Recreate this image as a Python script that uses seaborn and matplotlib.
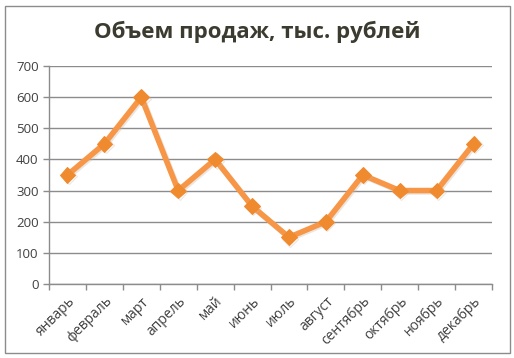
import numpy as np
import matplotlib
matplotlib.use("Agg")
import matplotlib.pyplot as plt
import matplotlib.patheffects as pe
from matplotlib.patches import Rectangle
import seaborn as sns

# данные графика
months = ['январь', 'февраль', 'март', 'апрель', 'май', 'июнь',
          'июль', 'август', 'сентябрь', 'октябрь', 'ноябрь', 'декабрь']
sales = [350, 450, 600, 300, 400, 250, 150, 200, 350, 300, 300, 450]
y_ticks = [0, 100, 200, 300, 400, 500, 600, 700]

sns.set_style("white")
plt.rcParams['font.family'] = ['Open Sans', 'DejaVu Sans']

fig = plt.figure(figsize=(5.14, 3.58), dpi=100)
ax = fig.add_axes([49 / 514, 1 - 284 / 358, (492 - 49) / 514, (284 - 66) / 358])

# рамка вокруг диаграммы
fig.patches.append(Rectangle((5 / 514, 5 / 358), 505 / 514, 347 / 358,
                             transform=fig.transFigure, fill=False,
                             edgecolor='#8c8c8c', linewidth=1))

shadow = [pe.SimpleLineShadow(offset=(1, -1), shadow_color='#c8b8a8', alpha=0.35),
          pe.Normal()]
sns.lineplot(x=months, y=sales, ax=ax, color='#f79646', linewidth=4,
             marker='D', markersize=8, markeredgecolor='#f08a2e',
             markerfacecolor='#f08a2e', path_effects=shadow)

ax.set_xlim(-0.5, len(months) - 0.5)
ax.set_ylim(0, 700)
ax.set_yticks(y_ticks)
ax.yaxis.grid(True, color='#8c8c8c', linewidth=1)
ax.set_axisbelow(True)

ax.set_xticks(range(len(months)))
ax.set_xticklabels(months, rotation=45, ha='right', rotation_mode='anchor',
                   fontsize=10, color='#404040')
ax.set_xticks(np.arange(-0.5, len(months)), minor=True)
ax.tick_params(axis='x', which='major', length=0, pad=7)
ax.tick_params(axis='x', which='minor', length=4, color='#8c8c8c', width=1, bottom=True)
ax.tick_params(axis='y', length=4, color='#8c8c8c', width=1, left=True,
               labelsize=9.5, labelcolor='#404040')

for side in ['top', 'right']:
    ax.spines[side].set_visible(False)
for side in ['left', 'bottom']:
    ax.spines[side].set_color('#8c8c8c')
    ax.spines[side].set_linewidth(1)

ax.set_xlabel('')
ax.set_ylabel('')
fig.text(257 / 514, 1 - 32 / 358, 'Объем продаж, тыс. рублей', ha='center', va='center',
         fontsize=16, fontweight='bold', color='#3b3b2f')

fig.savefig('out.png', dpi=100)
